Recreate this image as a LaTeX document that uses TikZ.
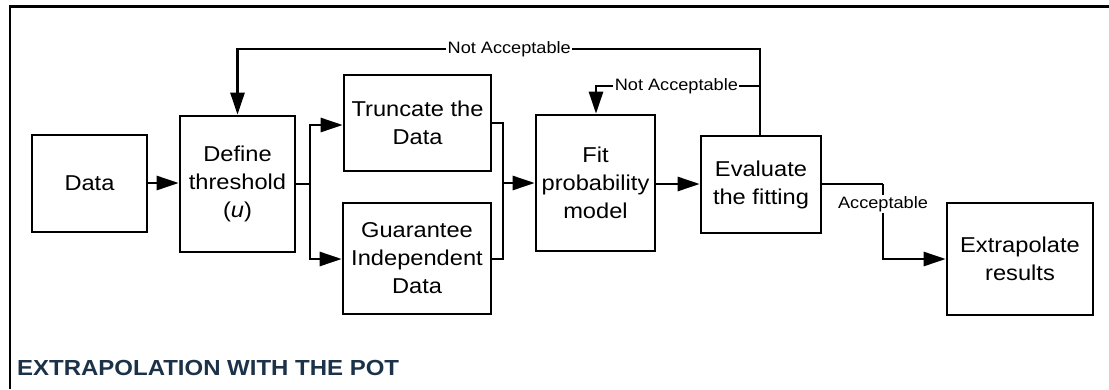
\documentclass[tikz,border=0pt]{standalone}
\usepackage{fontspec}
\setmainfont{Liberation Sans}[FakeStretch=1.1]
\usetikzlibrary{arrows.meta}
\definecolor{titleblue}{RGB}{28,50,72}
\tikzset{
  box/.style={draw, line width=2.6pt, minimum width=#1, inner sep=0pt, align=center,
              font=\fontsize{21.5}{28}\selectfont},
  link/.style={line width=2.6pt},
  arr/.style={link, -{Triangle[length=22pt,width=14pt]}},
  tag/.style={fill=white, inner sep=1.5pt, font=\fontsize{16.5}{18}\selectfont},
}
\begin{document}
\begin{tikzpicture}[x=1pt, y=-1pt]
  \useasboundingbox (0,0) rectangle (1109,389);

  % outer frame: top and left edges only
  \coordinate (frameTR) at (1109,6.5);
  \coordinate (frameTL) at (10,6.5);
  \coordinate (frameBL) at (10,389);
  \draw[line width=2.6pt] (frameTR) -- (frameTL) -- (frameBL);

  % process steps
  \node[box=115pt, minimum height=97pt]  (data)   at (89.5,183.5) {Data};
  \node[box=115pt, minimum height=136pt] (define) at (237.5,184)  {Define\\threshold\\(\textit{u})};
  \node[box=147pt, minimum height=96pt]  (trunc)  at (417.5,123)  {Truncate the\\Data};
  \node[box=148pt, minimum height=111pt] (indep)  at (417,258.5)  {Guarantee\\Independent\\Data};
  \node[box=119pt, minimum height=136pt] (fit)    at (595.5,183)  {Fit\\probability\\model};
  \node[box=120pt, minimum height=97pt]  (eval)   at (761,184.5)  {Evaluate\\the fitting};
  \node[box=146pt, minimum height=112pt] (extra)  at (1020,259)   {Extrapolate\\results};

  % forward flow
  \draw[arr] (data.east |- 0,183) -- (define.west |- 0,183);
  \coordinate (split) at (310,184);
  \draw[link] (define.east |- split) -- (split);
  \draw[arr] (split) |- (trunc.west |- 0,125);
  \draw[arr] (split) |- (indep.west |- 0,259);
  \coordinate (merge) at (503,183);
  \draw[link] (trunc.east |- 0,123) -| (merge);
  \draw[link] (indep.east |- 0,259) -| (merge);
  \draw[arr] (merge) -- (fit.west |- merge);
  \draw[arr] (fit.east |- 0,184) -- (eval.west |- 0,184);
  \coordinate (accTurn) at (883,184);
  \draw[link] (eval.east |- accTurn) -- (accTurn);
  \draw[arr] (accTurn) -- (883,259) node[tag, pos=0.27] {Acceptable} -- (extra.west |- 0,259);

  % feedback loops
  \coordinate (loopTop) at (760,49);
  \coordinate (loopMid) at (760,86);
  \draw[arr] (eval.north -| loopTop) -- (loopTop)
     -- (237.5,49) node[tag, pos=0.48] {Not Acceptable}
     -- (define.north);
  \draw[arr] (loopMid) -- (596,86) node[tag, pos=0.51] {Not Acceptable}
     -- (fit.north -| 596,0);

  % caption
  \node[anchor=base west, inner sep=0pt, text=titleblue,
        font=\fontsize{21.8}{24}\selectfont\bfseries] (caption) at (17,375)
        {EXTRAPOLATION WITH THE POT};
\end{tikzpicture}
\end{document}
